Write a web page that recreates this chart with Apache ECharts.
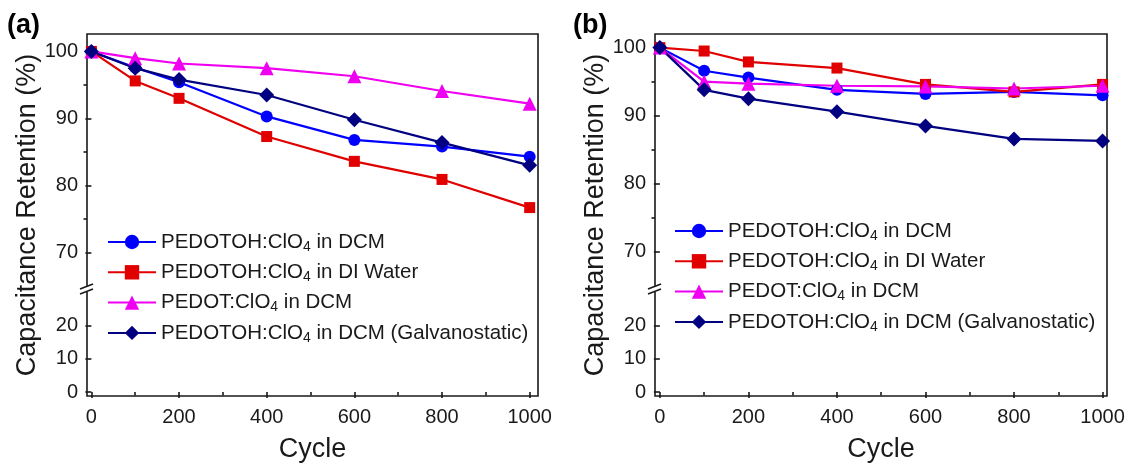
<!DOCTYPE html>
<html>
<head>
<meta charset="utf-8">
<script src="https://cdn.jsdelivr.net/npm/echarts@6/dist/echarts.min.js"></script>
<style>
html,body{margin:0;padding:0;background:#fff;}
#chart{width:1128px;height:464px;}
</style>
</head>
<body>
<div id="chart"></div>
<script>
// ---------------- data ----------------
const cycles = [0, 100, 200, 400, 600, 800, 1000];
const seriesNames = [
  'PEDOTOH:ClO4 in DCM',
  'PEDOTOH:ClO4 in DI Water',
  'PEDOT:ClO4 in DCM',
  'PEDOTOH:ClO4 in DCM (Galvanostatic)'
];
// panel (a)
const aDCM   = [100, 97.6, 95.4, 90.3, 86.8, 85.8, 84.3];
const aWater = [100, 95.6, 93.0, 87.3, 83.6, 80.9, 76.7];
const aPEDOT = [100, 99.0, 98.2, 97.5, 96.3, 94.1, 92.2];
const aGalv  = [100, 97.5, 95.8, 93.5, 89.8, 86.4, 83.0];
// panel (b)
const bDCM   = [100, 96.6, 95.6, 93.8, 93.2, 93.5, 93.0];
const bWater = [100, 99.5, 97.9, 97.0, 94.6, 93.5, 94.6];
const bPEDOT = [100, 95.0, 94.7, 94.4, 94.3, 94.0, 94.4];
const bGalv  = [100, 93.8, 92.5, 90.6, 88.5, 86.6, 86.3];
// tick labels
const xMajorTicks = [0, 200, 400, 600, 800, 1000];
const xMinorTicks = [100, 300, 500, 700, 900];
const yUpperMajor = [70, 80, 90, 100];
const yUpperMinor = [75, 85, 95];
const yLowerMajor = [0, 10, 20];
const panelLabels = ['(a)', '(b)'];

// ---------------- styles / layout ----------------
const FONT = 'Liberation Sans, Arial, sans-serif';
const INK = '#1a1a1a';
const colors = ['#0000ff', '#e00000', '#f000f0', '#000080'];
const symbols = ['circle', 'rect', 'triangle', 'diamond'];
const symbolSizes = [12, 11, 14, 15];

const W = 1128;
const panels = [
  { left: 87, right: 538, xMin: -10, xMax: 1019, yMaxUp: 102.6, legendLeft: 107, legendTop: 230, label: panelLabels[0], labelX: 7,
    data: [aDCM, aWater, aPEDOT, aGalv] },
  { left: 655, right: 1107, xMin: -11, xMax: 1010, yMaxUp: 102.0, legendLeft: 674, legendTop: 219, label: panelLabels[1], labelX: 573,
    data: [bDCM, bWater, bPEDOT, bGalv] }
];
const TOP = 34, UP_BOTTOM = 286, LOW_TOP = 292, BOTTOM = 396;
const yMinUp = 65, yMaxLow = 30;

const grid = [], xAxis = [], yAxis = [], series = [], legend = [], graphic = [];

const hiddenAxisBits = {
  axisLine: { show: false }, axisTick: { show: false },
  axisLabel: { show: false }, splitLine: { show: false }
};
const labelStyle = { color: INK, fontFamily: FONT, fontSize: 20, formatter: v => String(v) };

panels.forEach((p, pi) => {
  const gBase = grid.length;
  const gl = { left: p.left, right: W - p.right };
  grid.push({ ...gl, top: TOP, height: UP_BOTTOM - TOP });          // upper
  grid.push({ ...gl, top: LOW_TOP, height: BOTTOM - LOW_TOP });     // lower
  grid.push({ ...gl, top: TOP, height: BOTTOM - TOP, show: true,    // frame
              borderColor: INK, borderWidth: 1.6, backgroundColor: 'transparent' });

  const xBase = xAxis.length;
  xAxis.push({ type: 'value', gridIndex: gBase, min: p.xMin, max: p.xMax, ...hiddenAxisBits });
  xAxis.push({
    type: 'value', gridIndex: gBase + 1, min: p.xMin, max: p.xMax, position: 'bottom',
    axisLine: { show: false }, splitLine: { show: false },
    axisTick: { show: true, customValues: xMajorTicks, length: 6, lineStyle: { color: INK, width: 1.6 } },
    axisLabel: { show: true, customValues: xMajorTicks, margin: 15, ...labelStyle },
    name: 'Cycle', nameLocation: 'middle', nameGap: 44,
    nameTextStyle: { color: INK, fontFamily: FONT, fontSize: 27 }
  });
  xAxis.push({
    type: 'value', gridIndex: gBase + 1, min: p.xMin, max: p.xMax, position: 'bottom',
    axisLine: { show: false }, splitLine: { show: false }, axisLabel: { show: false },
    axisTick: { show: true, customValues: xMinorTicks, length: 3.5, lineStyle: { color: INK, width: 1.6 } }
  });
  xAxis.push({ type: 'value', gridIndex: gBase + 2, min: 0, max: 1, ...hiddenAxisBits });

  const yBase = yAxis.length;
  yAxis.push({
    type: 'value', gridIndex: gBase, min: yMinUp, max: p.yMaxUp, position: 'left',
    axisLine: { show: false }, splitLine: { show: false },
    axisTick: { show: true, customValues: yUpperMajor, length: 6, lineStyle: { color: INK, width: 1.6 } },
    axisLabel: { show: true, customValues: yUpperMajor, margin: 9, ...labelStyle }
  });
  yAxis.push({
    type: 'value', gridIndex: gBase, min: yMinUp, max: p.yMaxUp, position: 'left',
    axisLine: { show: false }, splitLine: { show: false }, axisLabel: { show: false },
    axisTick: { show: true, customValues: yUpperMinor, length: 3.5, lineStyle: { color: INK, width: 1.6 } }
  });
  yAxis.push({
    type: 'value', gridIndex: gBase + 1, min: 0, max: yMaxLow, position: 'left',
    axisLine: { show: false }, splitLine: { show: false },
    axisTick: { show: true, customValues: yLowerMajor, length: 6, lineStyle: { color: INK, width: 1.6 } },
    axisLabel: { show: true, customValues: yLowerMajor, margin: 9, ...labelStyle }
  });
  yAxis.push({
    type: 'value', gridIndex: gBase + 2, min: 0, max: 1, position: 'left',
    axisLine: { show: false }, axisTick: { show: false }, axisLabel: { show: false }, splitLine: { show: false },
    name: 'Capacitance Retention (%)', nameLocation: 'middle', nameGap: 46,
    nameTextStyle: { color: INK, fontFamily: FONT, fontSize: 27 }
  });

  seriesNames.forEach((name, si) => {
    series.push({
      type: 'line', name,
      xAxisIndex: xBase, yAxisIndex: yBase,
      data: cycles.map((c, i) => [c, p.data[si][i]]),
      symbol: symbols[si], symbolSize: symbolSizes[si],
      lineStyle: { color: colors[si], width: 2.2 },
      itemStyle: { color: colors[si] },
      animation: false, clip: false
    });
  });

  legend.push({
    orient: 'vertical', left: p.legendLeft, top: p.legendTop, padding: 0,
    itemWidth: 48, itemHeight: 18, itemGap: 6.3,
    data: seriesNames,
    selectedMode: false,
    formatter: n => n.replace('ClO4', 'ClO{sub|4}'),
    textStyle: {
      color: INK, fontFamily: FONT, fontSize: 20.5, lineHeight: 24,
      rich: { sub: { fontFamily: FONT, fontSize: 14, lineHeight: 12, verticalAlign: 'bottom', color: INK } }
    }
  });

  graphic.push({
    type: 'text', left: p.labelX, top: 12, z: 100,
    style: { text: p.label, fill: '#000', font: 'bold 27px ' + FONT }
  });
  const L = p.left;
  graphic.push({ type: 'rect', z: 100, shape: { x: L - 3, y: UP_BOTTOM, width: 6, height: LOW_TOP - UP_BOTTOM }, style: { fill: '#fff' } });
  graphic.push({ type: 'line', z: 101, shape: { x1: L - 7, y1: UP_BOTTOM + 3, x2: L + 6, y2: UP_BOTTOM - 2 }, style: { stroke: INK, lineWidth: 1.6 } });
  graphic.push({ type: 'line', z: 101, shape: { x1: L - 7, y1: LOW_TOP + 2, x2: L + 6, y2: LOW_TOP - 3 }, style: { stroke: INK, lineWidth: 1.6 } });
});

const chart = echarts.init(document.getElementById('chart'), null, { renderer: 'canvas' });
chart.setOption({
  backgroundColor: '#fff',
  animation: false,
  textStyle: { fontFamily: FONT },
  grid, xAxis, yAxis, series, legend, graphic
});
</script>
</body>
</html>
